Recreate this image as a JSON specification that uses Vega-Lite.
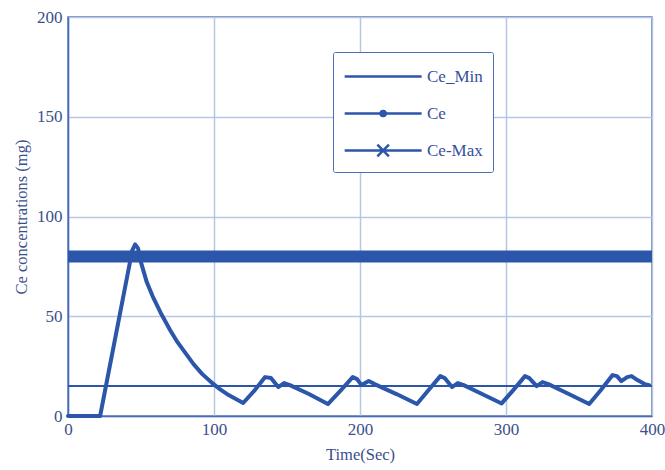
{
  "$schema": "https://vega.github.io/schema/vega-lite/v6.json",
  "width": 584,
  "height": 399,
  "autosize": "none",
  "padding": {"left": 68, "top": 17, "right": 13, "bottom": 54},
  "background": "white",
  "config": {
    "view": {"stroke": "#4a6db5", "strokeWidth": 1.5},
    "font": "Liberation Serif, Times New Roman, serif",
    "axis": {
      "labelFont": "Liberation Serif, Times New Roman, serif",
      "titleFont": "Liberation Serif, Times New Roman, serif",
      "labelFontSize": 17,
      "titleFontSize": 16.5,
      "titleFontWeight": "normal",
      "labelColor": "#3b4f8c",
      "titleColor": "#3b4f8c",
      "gridColor": "#b9c6e3",
      "gridWidth": 1.5,
      "gridOpacity": 1,
      "domainColor": "#4a6db5",
      "domainWidth": 1.5,
      "ticks": false
    },
    "legend": {"symbolStrokeWidth": 2.5}
  },
  "data": {
    "values": [
      {"series": "Ce_Min", "t": 0, "v": 15},
      {"series": "Ce_Min", "t": 400, "v": 15},
      {"series": "Ce-Max", "t": 0, "v": 80},
      {"series": "Ce-Max", "t": 400, "v": 80},
      {"series": "Ce", "t": 0, "v": 0},
      {"series": "Ce", "t": 22, "v": 0},
      {"series": "Ce", "t": 44, "v": 83},
      {"series": "Ce", "t": 46, "v": 86},
      {"series": "Ce", "t": 48, "v": 84},
      {"series": "Ce", "t": 50, "v": 77},
      {"series": "Ce", "t": 54, "v": 67},
      {"series": "Ce", "t": 58, "v": 60},
      {"series": "Ce", "t": 64, "v": 51},
      {"series": "Ce", "t": 70, "v": 43},
      {"series": "Ce", "t": 75, "v": 37},
      {"series": "Ce", "t": 80, "v": 32},
      {"series": "Ce", "t": 86, "v": 26},
      {"series": "Ce", "t": 92, "v": 21},
      {"series": "Ce", "t": 98, "v": 17},
      {"series": "Ce", "t": 104, "v": 13.5},
      {"series": "Ce", "t": 110, "v": 10.5},
      {"series": "Ce", "t": 115, "v": 8.5},
      {"series": "Ce", "t": 120, "v": 6.5},
      {"series": "Ce", "t": 128, "v": 13},
      {"series": "Ce", "t": 135, "v": 19.5},
      {"series": "Ce", "t": 139, "v": 19},
      {"series": "Ce", "t": 144, "v": 14.5},
      {"series": "Ce", "t": 148, "v": 16.5},
      {"series": "Ce", "t": 152, "v": 15.5},
      {"series": "Ce", "t": 165, "v": 11},
      {"series": "Ce", "t": 178, "v": 6},
      {"series": "Ce", "t": 187, "v": 13},
      {"series": "Ce", "t": 195, "v": 19.5},
      {"series": "Ce", "t": 198, "v": 18.5},
      {"series": "Ce", "t": 201, "v": 15.5},
      {"series": "Ce", "t": 206, "v": 17.5},
      {"series": "Ce", "t": 210, "v": 16},
      {"series": "Ce", "t": 225, "v": 11},
      {"series": "Ce", "t": 239, "v": 6},
      {"series": "Ce", "t": 247, "v": 13},
      {"series": "Ce", "t": 255, "v": 20},
      {"series": "Ce", "t": 258, "v": 19},
      {"series": "Ce", "t": 263, "v": 14.5},
      {"series": "Ce", "t": 267, "v": 16.5},
      {"series": "Ce", "t": 271, "v": 15.5},
      {"series": "Ce", "t": 285, "v": 10.5},
      {"series": "Ce", "t": 297, "v": 6.3},
      {"series": "Ce", "t": 305, "v": 13},
      {"series": "Ce", "t": 313, "v": 20},
      {"series": "Ce", "t": 316, "v": 19},
      {"series": "Ce", "t": 321, "v": 15},
      {"series": "Ce", "t": 325, "v": 17},
      {"series": "Ce", "t": 329, "v": 16},
      {"series": "Ce", "t": 343, "v": 11},
      {"series": "Ce", "t": 357, "v": 6},
      {"series": "Ce", "t": 365, "v": 13},
      {"series": "Ce", "t": 373, "v": 20.5},
      {"series": "Ce", "t": 376, "v": 20},
      {"series": "Ce", "t": 379, "v": 17.5},
      {"series": "Ce", "t": 383, "v": 19.5},
      {"series": "Ce", "t": 386, "v": 20},
      {"series": "Ce", "t": 390, "v": 18},
      {"series": "Ce", "t": 395, "v": 16},
      {"series": "Ce", "t": 398, "v": 15.5}
    ]
  },
  "encoding": {
    "x": {
      "field": "t", "type": "quantitative",
      "scale": {"domain": [0, 400], "nice": false},
      "axis": {"values": [0, 100, 200, 300, 400], "title": "Time(Sec)", "labelPadding": 5, "titlePadding": 9, "labelFlush": false}
    },
    "y": {
      "field": "v", "type": "quantitative",
      "scale": {"domain": [0, 200], "nice": false},
      "axis": {"values": [0, 50, 100, 150, 200], "title": "Ce concentrations (mg)", "labelPadding": 6, "titlePadding": 7, "labelFlush": false}
    },
    "color": {
      "field": "series", "type": "nominal",
      "scale": {"domain": ["Ce_Min", "Ce", "Ce-Max"], "range": ["#2b56aa", "#2b56aa", "#2b56aa"]},
      "legend": {
        "title": null,
        "orient": "none",
        "legendX": 265,
        "legendY": 35,
        "symbolSize": 658,
        "symbolStrokeWidth": 2.5,
        "symbolFillColor": "transparent",
        "symbolOpacity": 1,
        "labelFont": "Liberation Serif, Times New Roman, serif",
        "labelFontSize": 17,
        "labelColor": "#34509a",
        "labelOffset": 55,
        "rowPadding": 14,
        "padding": 10,
        "strokeColor": "#4a6db5",
        "fillColor": "white",
        "cornerRadius": 2
      }
    },
    "order": {"field": "t", "type": "quantitative"}
  },
  "layer": [
    {
      "transform": [{"filter": "datum.series == 'Ce-Max'"}],
      "mark": {"type": "line", "strokeWidth": 12}
    },
    {
      "transform": [{"filter": "datum.series == 'Ce_Min'"}],
      "mark": {"type": "line", "strokeWidth": 2}
    },
    {
      "transform": [{"filter": "datum.series == 'Ce'"}],
      "mark": {"type": "line", "strokeWidth": 4, "strokeCap": "round", "strokeJoin": "round"}
    },
    {
      "transform": [{"filter": "datum.series == 'legend only'"}],
      "mark": {"type": "point", "filled": false, "strokeWidth": 2.5, "opacity": 1},
      "encoding": {
        "shape": {
          "field": "series", "type": "nominal",
          "scale": {
            "domain": ["Ce_Min", "Ce", "Ce-Max"],
            "range": [
              "M-1,0H5",
              "M-1,0H5M1.8,0A0.2,0.2,0,1,0,2.2,0A0.2,0.2,0,1,0,1.8,0",
              "M-1,0H5M1.55,-0.45L2.45,0.45M1.55,0.45L2.45,-0.45"
            ]
          },
          "legend": {"title": null}
        }
      }
    }
  ]
}
